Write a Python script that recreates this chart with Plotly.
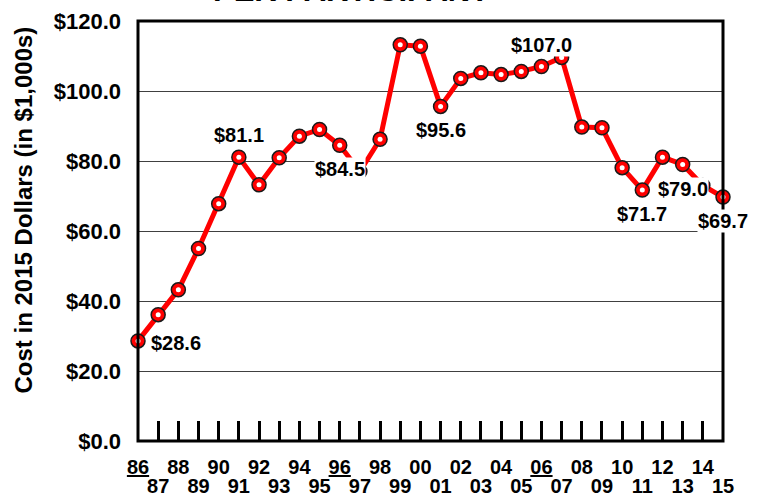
import plotly.graph_objects as go

# ---- data ----
years = list(range(1986, 2016))
costs = [28.6, 36.1, 43.2, 55.0, 67.8, 81.1, 73.2, 80.9, 87.1, 89.0,
         84.5, 77.0, 86.2, 113.2, 112.8, 95.6, 103.6, 105.2, 104.7, 105.6,
         107.0, 109.6, 89.7, 89.5, 78.1, 71.7, 81.1, 79.0, 73.0, 69.7]
year_labels = ['86', '87', '88', '89', '90', '91', '92', '93', '94', '95',
               '96', '97', '98', '99', '00', '01', '02', '03', '04', '05',
               '06', '07', '08', '09', '10', '11', '12', '13', '14', '15']
underlined = ['86', '96', '06']
label_years = [1986, 1991, 1996, 2001, 2006, 2011, 2013, 2015]
label_pos = ['right', 'above', 'below', 'below', 'above', 'below', 'below', 'below']
title_text = 'PER PARTICIPANT'
y_title = 'Cost in 2015 Dollars (in $1,000s)'
y_ticks = [0, 20, 40, 60, 80, 100, 120]
y_tick_text = ['$0.0', '$20.0', '$40.0', '$60.0', '$80.0', '$100.0', '$120.0']

FONT = 'Arial, Liberation Sans, sans-serif'

def fmt_year(lbl):
    return f'<u>{lbl}</u>' if lbl in underlined else lbl

even_text_all = [fmt_year(year_labels[i]) if years[i] % 2 == 0 else '' for i in range(len(years))]
odd_vals = [y for y in years if y % 2 == 1]
odd_text = [fmt_year(year_labels[years.index(y)]) for y in odd_vals]

fig = go.Figure()
fig.add_trace(go.Scatter(
    x=years, y=costs, mode='lines+markers',
    line=dict(color='#FF0000', width=5),
    marker=dict(size=14, color='#FF0000', line=dict(color='#1a1a1a', width=1.5)),
    cliponaxis=False, hoverinfo='skip', showlegend=False))
fig.add_trace(go.Scatter(
    x=years, y=costs, mode='markers',
    marker=dict(size=5, color='white', line=dict(width=0)),
    cliponaxis=False, hoverinfo='skip', showlegend=False))
# carrier trace so the second (odd-year label) axis is drawn
fig.add_trace(go.Scatter(
    x=years, y=costs, xaxis='x2', mode='lines', line=dict(width=0),
    opacity=0, hoverinfo='skip', showlegend=False))

annotations = []
for yr, pos in zip(label_years, label_pos):
    v = costs[years.index(yr)]
    a = dict(x=yr, y=v, xref='x', yref='y', text=f'${v:.1f}', showarrow=False,
             font=dict(family=FONT, size=20, color='black', weight='bold'),
             bgcolor='white', borderpad=0)
    if pos == 'right':
        a.update(xanchor='left', yanchor='middle', xshift=12, yshift=-2)
    elif pos == 'above':
        a.update(xanchor='center', yanchor='middle', yshift=22)
    else:
        a.update(xanchor='center', yanchor='middle', yshift=-24)
    annotations.append(a)

# cut-off title
annotations.append(dict(x=0.364, y=1.026, xref='paper', yref='paper', text=title_text,
                        showarrow=False, xanchor='center', yanchor='bottom',
                        font=dict(family=FONT, size=31, color='black', weight='bold')))
# y-axis title
annotations.append(dict(x=-0.195, y=0.551, xref='paper', yref='paper', text=y_title,
                        showarrow=False, xanchor='center', yanchor='middle', textangle=-90,
                        font=dict(family=FONT, size=24, color='black', weight='bold')))

tickfont = dict(family=FONT, size=20, color='black', weight='bold')

fig.update_layout(
    width=765, height=497,
    margin=dict(l=138, r=42, t=21, b=56, autoexpand=False),
    paper_bgcolor='white', plot_bgcolor='white',
    showlegend=False,
    annotations=annotations,
    shapes=[dict(type='rect', xref='paper', yref='paper', x0=0, x1=1, y0=0, y1=1,
                 line=dict(color='black', width=3), layer='above')],
    xaxis=dict(range=[1986, 2015], tickmode='array', tickvals=years, ticktext=even_text_all,
               ticks='inside', ticklen=20, tickwidth=2.5, tickcolor='black',
               showgrid=False, zeroline=False, showline=False, tickangle=0,
               ticklabelstandoff=12, automargin=False, tickfont=tickfont),
    xaxis2=dict(range=[1986, 2015], overlaying='x', anchor='y', side='bottom',
                tickmode='array', tickvals=odd_vals, ticktext=odd_text,
                ticks='', showgrid=False, zeroline=False, showline=False, tickangle=0,
                ticklabelstandoff=31, automargin=False, tickfont=tickfont),
    yaxis=dict(range=[0, 120], tickmode='array', tickvals=y_ticks, ticktext=y_tick_text,
               ticks='', ticklabelstandoff=16, automargin=False,
               showgrid=True, gridcolor='#404040', gridwidth=1, zeroline=False,
               showline=False,
               tickfont=dict(family=FONT, size=22, color='black', weight='bold')),
)

fig.write_html('out.html', config={'displayModeBar': False},
               post_script="document.body.style.margin='0';document.body.style.overflow='hidden';")
